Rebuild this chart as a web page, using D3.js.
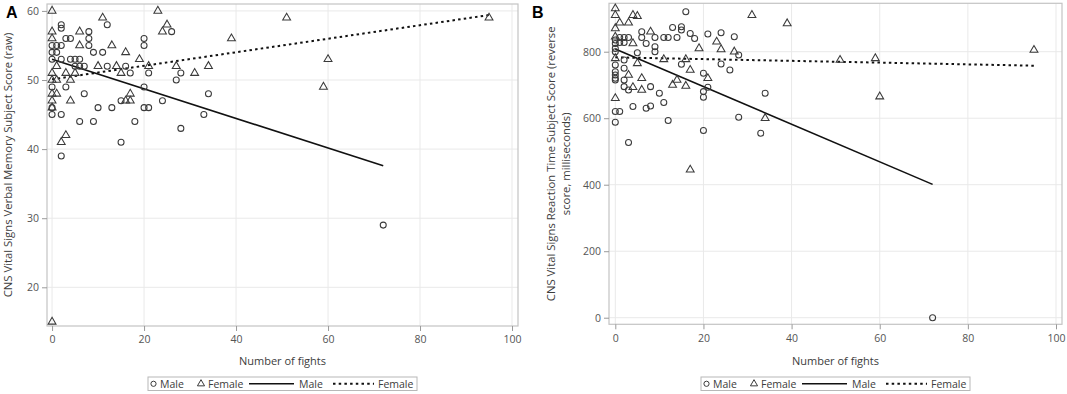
<!DOCTYPE html>
<html><head><meta charset="utf-8">
<script src="https://cdn.jsdelivr.net/npm/d3@7"></script>
<style>
html,body{margin:0;padding:0;background:#fff;}
svg{display:block;font-family:"Open Sans",sans-serif;}
</style></head>
<body><svg id="chart" width="1067" height="394"></svg>
<script>
// ---------- data ----------
const xTicks = [0, 20, 40, 60, 80, 100];
const aYTicks = [20, 30, 40, 50, 60];
const bYTicks = [0, 200, 400, 600, 800];

const aMale = [[2,58],[2,57.5],[12,58],[4,56],[3,56],[8,57],[8,56],[8,55],[0,55],[1,55],[2,55],[0,54],[1,54],[9,54],[11,54],[20,56],[20,55],[2,53],[4,53],[5,53],[6,53],[5,52],[6,52],[7,52],[12,52],[16,52],[17,51],[21,51],[28,51],[27,50],[20,49],[0,49],[3,49],[7,48],[10,46],[13,46],[20,46],[21,46],[15,47],[24,47],[2,45],[6,44],[9,44],[18,44],[28,43],[15,41],[2,39],[0,46],[0,45],[34,48],[33,45],[72,29],[26,57],[0,53]];
const aFemale = [[0,60],[11,59],[23,60],[25,58],[24,57],[0,57],[6,57],[6,55],[13,55],[16,54],[19,53],[21,52],[27,52],[0,56],[1,52],[10,52],[14,52],[15,51],[0,51],[3,51],[5,51],[1,50],[4,50],[1,48],[0,47],[4,47],[17,48],[16,47],[17,47],[0,46],[3,42],[2,41],[51,59],[39,56],[60,53],[59,49],[34,52],[31,51],[95,59],[0,15],[0,50],[0,48]];
const aMaleFit = [[0,53],[72,37.6]];
const aFemaleFit = [[0,50.1],[95,59.4]];

const bMale = [[16,920],[1,843],[2,843],[3,843],[0,825],[1,828],[2,828],[6,860],[6,843],[7,825],[9,843],[11,843],[12,843],[14,843],[9,815],[9,800],[13,873],[15,875],[15,865],[17,855],[18,840],[21,853],[24,857],[27,845],[5,797],[2,775],[0,760],[2,750],[15,762],[24,763],[26,745],[28,790],[20,735],[0,715],[2,715],[2,695],[3,685],[8,695],[10,675],[20,680],[20,663],[21,693],[11,647],[4,635],[7,630],[8,637],[0,620],[1,620],[0,588],[12,593],[28,603],[20,563],[3,527],[0,835],[0,740],[0,730],[0,720],[34,675],[33,555],[72,0],[0,800],[0,810]];
const bFemale = [[0,930],[0,910],[1,887],[3,887],[4,910],[5,907],[31,910],[8,860],[4,825],[5,765],[11,777],[16,777],[19,810],[23,830],[24,807],[27,800],[17,745],[14,715],[13,700],[16,697],[21,720],[3,730],[6,720],[4,693],[6,685],[0,660],[17,445],[39,885],[51,775],[59,780],[60,665],[34,600],[95,805],[0,780],[0,870],[0,845]];
const bMaleFit = [[0,808],[72,401]];
const bFemaleFit = [[0,783],[95,758]];

const xTitle = "Number of fights";
const aYTitle = ["CNS Vital Signs Verbal Memory Subject Score (raw)"];
const bYTitle = ["CNS Vital Signs Reaction Time Subject Score (reverse", "score, milliseconds)"];
const legendLabels = ["Male", "Female", "Male", "Female"];

// ---------- drawing ----------
const svg = d3.select("#chart");
const ink = "#3a3a3a";

function panel(cfg) {
  const g = svg.append("g");
  const x = d3.scaleLinear().domain(cfg.xDom).range([cfg.left, cfg.right]);
  const y = d3.scaleLinear().domain(cfg.yDom).range([cfg.bottom, cfg.top]);

  // grid
  g.append("g").selectAll("line.vx").data(xTicks).join("line")
    .attr("x1", d => x(d)).attr("x2", d => x(d))
    .attr("y1", cfg.top).attr("y2", cfg.bottom)
    .attr("stroke", "#e9e9e9").attr("stroke-width", 1);
  g.append("g").selectAll("line.hy").data(cfg.yTicks).join("line")
    .attr("y1", d => y(d)).attr("y2", d => y(d))
    .attr("x1", cfg.left).attr("x2", cfg.right)
    .attr("stroke", "#e9e9e9").attr("stroke-width", 1);

  // frame
  g.append("rect").attr("x", cfg.left).attr("y", cfg.top)
    .attr("width", cfg.right - cfg.left).attr("height", cfg.bottom - cfg.top)
    .attr("fill", "none").attr("stroke", "#c4c4c4").attr("stroke-width", 1.2);

  // axes
  const xa = g.append("g").attr("transform", `translate(0,${cfg.bottom})`)
    .call(d3.axisBottom(x).tickValues(xTicks).tickSize(5).tickPadding(5));
  const ya = g.append("g").attr("transform", `translate(${cfg.left},0)`)
    .call(d3.axisLeft(y).tickValues(cfg.yTicks).tickSize(5).tickPadding(3));
  [xa, ya].forEach(a => {
    a.select(".domain").remove();
    a.selectAll(".tick line").attr("stroke", "#9a9a9a");
    a.selectAll(".tick text").attr("fill", "#555")
      .style("font-size", "10.5px").style("font-family", '"Open Sans",sans-serif');
  });

  // fit lines
  const line = d3.line().x(d => x(d[0])).y(d => y(d[1]));
  g.append("path").datum(cfg.maleFit).attr("d", line)
    .attr("fill", "none").attr("stroke", "#111").attr("stroke-width", 1.6);
  g.append("path").datum(cfg.femaleFit).attr("d", line)
    .attr("fill", "none").attr("stroke", "#111").attr("stroke-width", 2)
    .attr("stroke-dasharray", "2.5,3.2");

  // markers
  g.append("g").selectAll("circle").data(cfg.male).join("circle")
    .attr("cx", d => x(d[0])).attr("cy", d => y(d[1])).attr("r", 3)
    .attr("fill", "none").attr("stroke", ink).attr("stroke-width", 1.05);
  const tri = d3.symbol().type(d3.symbolTriangle).size(27);
  g.append("g").selectAll("path").data(cfg.female).join("path")
    .attr("d", tri)
    .attr("transform", d => `translate(${x(d[0])},${y(d[1])})`)
    .attr("fill", "none").attr("stroke", ink).attr("stroke-width", 1.05);

  // x title
  g.append("text").attr("x", (cfg.left + cfg.right) / 2 + cfg.xTitleDx).attr("y", 365)
    .attr("text-anchor", "middle").attr("fill", "#3c3c3c")
    .style("font-size", "11px").text(xTitle);

  // y title
  const yt = g.append("text").attr("transform", `translate(${cfg.yTitleX},${(cfg.top + cfg.bottom) / 2}) rotate(-90)`)
    .attr("text-anchor", "middle").attr("fill", "#3c3c3c").style("font-size", "11.3px");
  cfg.yTitle.forEach((t, i) => {
    yt.append("tspan").attr("x", 0).attr("dy", i === 0 ? 0 : 14.5).text(t);
  });

  // panel letter
  g.append("text").attr("x", cfg.letterX).attr("y", 18).attr("fill", "#000")
    .style("font-size", "16px").style("font-weight", "bold")
    .style("font-family", '"Liberation Sans",Arial,sans-serif').text(cfg.letter);

  // legend
  const L = g.append("g").attr("transform", `translate(${cfg.legendX},377)`);
  L.append("rect").attr("x", 0).attr("y", 0).attr("width", 269).attr("height", 13.5)
    .attr("fill", "#fff").attr("stroke", "#b8b8b8").attr("stroke-width", 1);
  const ly = 6.8;
  L.append("circle").attr("cx", 5.5).attr("cy", ly).attr("r", 2.6)
    .attr("fill", "none").attr("stroke", ink).attr("stroke-width", 1);
  L.append("path").attr("d", d3.symbol().type(d3.symbolTriangle).size(22))
    .attr("transform", `translate(53,${ly})`)
    .attr("fill", "none").attr("stroke", ink).attr("stroke-width", 1);
  L.append("line").attr("x1", 101).attr("x2", 146).attr("y1", ly).attr("y2", ly)
    .attr("stroke", "#111").attr("stroke-width", 1.6);
  L.append("line").attr("x1", 185).attr("x2", 226).attr("y1", ly).attr("y2", ly)
    .attr("stroke", "#111").attr("stroke-width", 2).attr("stroke-dasharray", "2.5,3.2");
  const lx = [12, 60, 151, 230];
  L.selectAll("text.lab").data(legendLabels).join("text")
    .attr("x", (d, i) => lx[i]).attr("y", 10.6).attr("fill", "#3c3c3c")
    .style("font-size", "10.5px").text(d => d);
}

panel({
  left: 47, right: 518, top: 4, bottom: 326,
  xDom: [-1.1, 101.3], yDom: [14.4, 61], yTicks: aYTicks,
  male: aMale, female: aFemale, maleFit: aMaleFit, femaleFit: aFemaleFit,
  yTitle: aYTitle, yTitleX: 12, xTitleDx: 0, letter: "A", letterX: 6, legendX: 148
});
panel({
  left: 609, right: 1062, top: 3.3, bottom: 324.3,
  xDom: [-1.43, 101.36], yDom: [-19.8, 945.6], yTicks: bYTicks,
  male: bMale, female: bFemale, maleFit: bMaleFit, femaleFit: bFemaleFit,
  yTitle: bYTitle, yTitleX: 555, xTitleDx: 0, letter: "B", letterX: 532, legendX: 701
});
</script>
</body></html>
